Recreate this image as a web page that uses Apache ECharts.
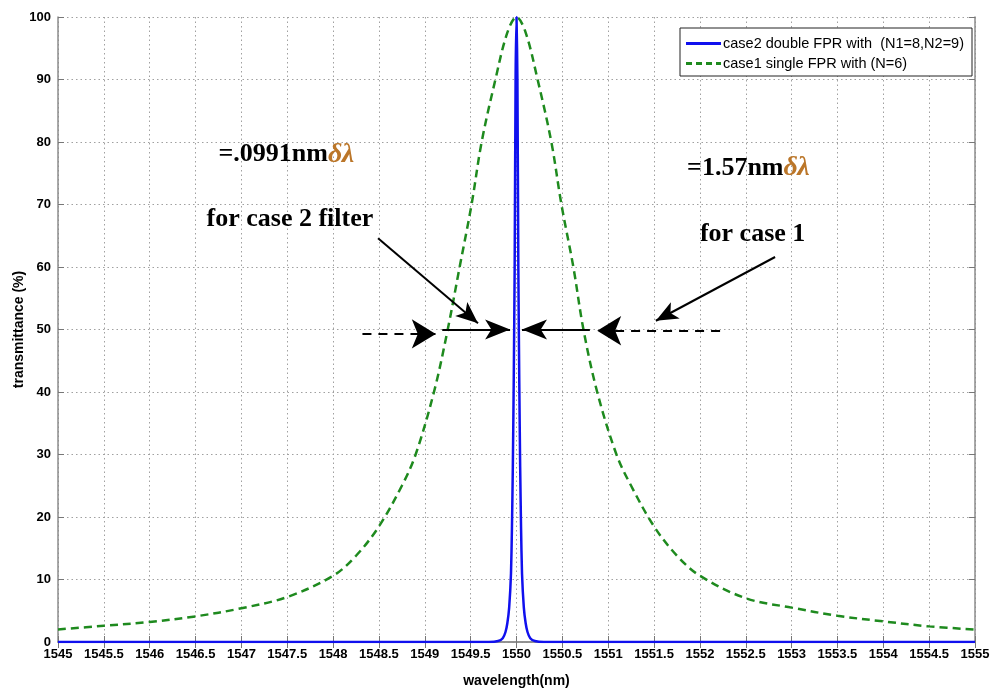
<!DOCTYPE html>
<html>
<head>
<meta charset="utf-8">
<script src="https://cdn.jsdelivr.net/npm/echarts@6/dist/echarts.min.js"></script>
<style>html,body{margin:0;padding:0;background:#fff}#c{width:993px;height:689px}</style>
</head>
<body>
<div id="c"></div>
<script>
// ---- data ----
const xTicks = [1545,1545.5,1546,1546.5,1547,1547.5,1548,1548.5,1549,1549.5,1550,1550.5,1551,1551.5,1552,1552.5,1553,1553.5,1554,1554.5,1555];
const yTicks = [0,10,20,30,40,50,60,70,80,90,100];

const blueName = 'case2 double FPR with  (N1=8,N2=9)';
const greenName = 'case1 single FPR with (N=6)';

const blueX = [1545,1549.7,1549.8,1549.85,1549.88,1549.9,1549.92,1549.94,1549.95,1549.96,1549.97,1549.98,1549.99,1550,1550.01,1550.02,1550.03,1550.04,1550.05,1550.06,1550.08,1550.1,1550.12,1550.15,1550.2,1550.3,1555];
const blueY = [0,0,0.15,0.6,1.6,3,5.5,11,18,28,42,60,90,100,90,60,42,28,18,11,5.5,3,1.6,0.6,0.15,0,0];

const greenX = [1545,1545.5,1546,1546.5,1547,1547.5,1548,1548.25,1548.5,1548.75,1548.9,1549.1,1549.25,1549.38,1549.51,1549.62,1549.77,1549.9,1550,1550.1,1550.23,1550.38,1550.49,1550.62,1550.73,1550.88,1551.09,1551.25,1551.5,1551.75,1552,1552.5,1553,1553.5,1554,1554.5,1555];
const greenY = [2.0,2.6,3.2,4.1,5.4,7.2,10.6,13.8,18.5,25,30,40,50,60,70,80,90,97.5,100,97.5,90,80,70,60,50,40,30,25,18.5,13.8,10.6,7.0,5.5,4.2,3.3,2.5,2.0];

// annotation texts
const noteTexts = ['=.0991nm', '=1.57nm', 'for case 2 filter', 'for case 1'];
const deltaLambda = 'δλ';

// ---- chart ----
const fontSans = '"Liberation Sans", Arial, sans-serif';
const fontSerif = '"Liberation Serif", "Times New Roman", serif';
const pairs = (xs, ys) => xs.map((x, i) => [x, ys[i]]);

const arrow = (x1, y1, x2, y2, dashed, size) => [
  {coord: [x1, y1], symbol: 'none', lineStyle: {type: dashed ? [9, 7] : 'solid', color: '#000', width: 2}},
  {coord: [x2, y2], symbol: 'arrow', symbolSize: size}
];
const note = (x, y, rich) => ({coord: [x, y], label: {formatter: rich}});

const chart = echarts.init(document.getElementById('c'), null, {renderer: 'canvas'});
const axisBase = {
  min: 1545, max: 1555, interval: 0.5, type: 'value',
  axisLine: {show: true, lineStyle: {color: '#8c8c8c', width: 1.5}},
  axisTick: {show: true, inside: true, length: 6, lineStyle: {color: '#777'}},
};
chart.setOption({
  animation: false,
  backgroundColor: '#fff',
  grid: {left: 58, right: 18, top: 17, bottom: 47, containLabel: false, outerBoundsMode: 'none'},
  legend: {
    data: [
      {name: blueName, icon: 'path://M0,0h35v3h-35z'},
      {name: greenName, icon: 'path://M0,0h6v3h-6z M10,0h6v3h-6z M20,0h6v3h-6z M30,0h5v3h-5z'}
    ],
    orient: 'vertical', right: 21, top: 28,
    itemWidth: 35, itemHeight: 3, itemGap: 5,
    padding: [8, 8, 5, 6],
    borderColor: '#222', borderWidth: 1, backgroundColor: '#fff', borderRadius: 0,
    textStyle: {fontFamily: fontSans, fontSize: 14.5, color: '#000', padding: [0,0,0,-3]}
  },
  xAxis: [
    Object.assign({}, axisBase, {
      position: 'bottom',
      name: 'wavelength(nm)', nameLocation: 'middle', nameGap: 32,
      nameTextStyle: {fontFamily: fontSans, fontSize: 14, fontWeight: 'bold', color: '#000'},
      axisLabel: {fontFamily: fontSans, fontSize: 13, fontWeight: 'bold', color: '#000', margin: 6,
        formatter: v => String(v), customValues: xTicks, showMinLabel: true, showMaxLabel: true},
      splitLine: {show: true, lineStyle: {color: '#a0a0a0', type: [1.5, 3], width: 1}}
    }),
    Object.assign({}, axisBase, {
      position: 'top', axisLabel: {show: false}, splitLine: {show: false}
    })
  ],
  yAxis: [
    {
      type: 'value', min: 0, max: 100, interval: 10, position: 'left',
      name: 'transmittance (%)', nameLocation: 'middle', nameGap: 32, nameMoveOverlap: false,
      nameTextStyle: {fontFamily: fontSans, fontSize: 14, fontWeight: 'bold', color: '#000'},
      axisLine: {show: true, lineStyle: {color: '#8c8c8c', width: 1.5}},
      axisTick: {show: true, inside: true, length: 6, lineStyle: {color: '#777'}},
      axisLabel: {fontFamily: fontSans, fontSize: 13, fontWeight: 'bold', color: '#000', margin: 7,
        customValues: yTicks},
      splitLine: {show: true, lineStyle: {color: '#a0a0a0', type: [1.5, 3], width: 1}}
    },
    {
      type: 'value', min: 0, max: 100, interval: 10, position: 'right',
      axisLine: {show: true, lineStyle: {color: '#8c8c8c', width: 1.5}},
      axisTick: {show: true, inside: true, length: 6, lineStyle: {color: '#777'}},
      axisLabel: {show: false}, splitLine: {show: false}
    }
  ],
  series: [
    {
      name: greenName, type: 'line', xAxisIndex: 0, yAxisIndex: 0,
      data: pairs(greenX, greenY), symbol: 'none', smooth: 0.35, z: 3,
      lineStyle: {color: '#1e8a1e', width: 2.5, type: [8, 5]},
      itemStyle: {color: '#1e8a1e'}
    },
    {
      name: blueName, type: 'line', xAxisIndex: 0, yAxisIndex: 0,
      data: pairs(blueX, blueY), symbol: 'none', smooth: 0.2, z: 4,
      lineStyle: {color: '#1010ee', width: 2.5},
      itemStyle: {color: '#1010ee'}
    },
    {
      name: 'annotations', type: 'line', xAxisIndex: 0, yAxisIndex: 0, data: [], z: 5,
      markLine: {
        silent: true, animation: false, symbol: ['none', 'arrow'],
        label: {show: false},
        lineStyle: {color: '#000', width: 2},
        data: [
          arrow(1548.49, 64.6, 1549.58, 51.0, false, [14, 22]),
          arrow(1548.32, 49.3, 1549.12, 49.3, true, [22, 24]),
          arrow(1549.19, 50.0, 1549.93, 50.0, false, [15, 25]),
          arrow(1550.80, 50.0, 1550.06, 50.0, false, [15, 25]),
          arrow(1552.22, 49.8, 1550.88, 49.8, true, [22, 24]),
          arrow(1552.82, 61.6, 1551.52, 51.4, false, [14, 22])
        ]
      },
      markPoint: {
        silent: true, symbol: 'circle', symbolSize: 0,
        label: {
          show: true, position: 'right', distance: 0,
          fontFamily: fontSerif, fontSize: 26, fontWeight: 'bold', color: '#000',
          rich: {
            t: {fontFamily: fontSerif, fontSize: 26, fontWeight: 'bold', color: '#000'},
            d: {fontFamily: fontSerif, fontSize: 28, fontWeight: 'bold', fontStyle: 'italic', color: '#bb7629',
                textShadowColor: '#3d6cc4', textShadowOffsetX: 1.2, textShadowBlur: 0}
          }
        },
        data: [
          note(1546.75, 78.0, '{t|' + noteTexts[0] + '}{d|' + deltaLambda + '}'),
          note(1551.86, 75.8, '{t|' + noteTexts[1] + '}{d|' + deltaLambda + '}'),
          note(1546.62, 67.6, '{t|' + noteTexts[2] + '}'),
          note(1552.00, 65.3, '{t|' + noteTexts[3] + '}')
        ]
      }
    }
  ]
});
</script>
</body>
</html>
